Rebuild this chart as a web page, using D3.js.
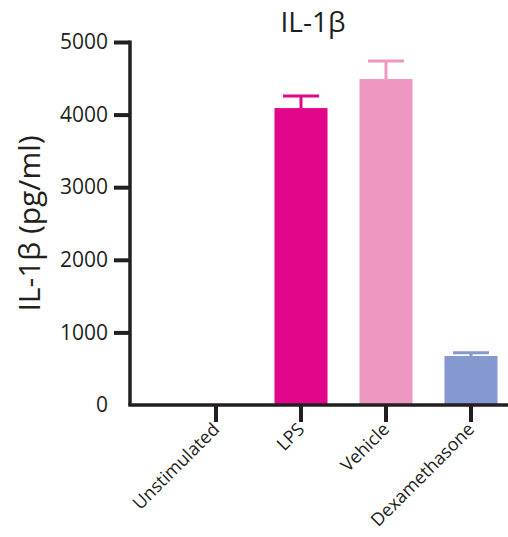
<!DOCTYPE html>
<html>
<head>
<meta charset="utf-8">
<script src="https://cdn.jsdelivr.net/npm/d3@7"></script>
<style>
  body { margin: 0; background: #fff; }
  text { font-family: "Open Sans", sans-serif; fill: #231f20; }
</style>
</head>
<body>
<svg id="chart" width="508" height="537"></svg>
<script>
const categories = ["Unstimulated", "LPS", "Vehicle", "Dexamethasone"];
const means = [0, 4090, 4490, 675];
const errors = [0, 165, 250, 45];
const barColors = ["#ffffff", "#e2078a", "#ee98c1", "#8599d0"];
const yTicks = [0, 1000, 2000, 3000, 4000, 5000];

const AXIS_COLOR = "#231f20";
const X0 = 130;
const X1 = 508;

const svg = d3.select("#chart");

const x = d3.scaleBand()
  .domain(categories)
  .range([173.5, 513.5])
  .paddingInner(0.376)
  .paddingOuter(0.188);

const y = d3.scaleLinear()
  .domain([0, 5000])
  .range([405, 42]);

// bars
svg.append("g").selectAll("rect")
  .data(categories)
  .join("rect")
  .attr("x", d => x(d))
  .attr("width", x.bandwidth())
  .attr("y", (d, i) => y(means[i]))
  .attr("height", (d, i) => y(0) - y(means[i]))
  .attr("fill", (d, i) => barColors[i]);

// error bars (upper only)
const err = svg.append("g");
categories.forEach((c, i) => {
  if (!means[i]) return;
  const cx = x(c) + x.bandwidth() / 2;
  err.append("line")
    .attr("x1", cx).attr("x2", cx)
    .attr("y1", y(means[i])).attr("y2", y(means[i] + errors[i]))
    .attr("stroke", barColors[i]).attr("stroke-width", 3);
  err.append("line")
    .attr("x1", cx - 18).attr("x2", cx + 18)
    .attr("y1", y(means[i] + errors[i])).attr("y2", y(means[i] + errors[i]))
    .attr("stroke", barColors[i]).attr("stroke-width", 3);
});

// y axis
const yAxis = svg.append("g")
  .attr("transform", `translate(${X0},0)`)
  .call(d3.axisLeft(y).tickValues(yTicks).tickFormat(d3.format("d"))
    .tickSize(16).tickPadding(6).tickSizeOuter(0));
yAxis.select(".domain").remove();
yAxis.selectAll(".tick line").attr("stroke", AXIS_COLOR).attr("stroke-width", 4);
yAxis.selectAll(".tick text").style("font-size", "21px").attr("fill", AXIS_COLOR);
yAxis.select(".tick:first-of-type line").remove();

svg.append("line")
  .attr("x1", X0).attr("x2", X0)
  .attr("y1", y(5000) - 1.5).attr("y2", y(0))
  .attr("stroke", AXIS_COLOR).attr("stroke-width", 3.5);

// x axis
const xAxis = svg.append("g")
  .attr("transform", `translate(0,${y(0)})`)
  .call(d3.axisBottom(x).tickSize(17).tickPadding(4).tickSizeOuter(0));
xAxis.select(".domain").remove();
xAxis.selectAll(".tick line").attr("stroke", AXIS_COLOR).attr("stroke-width", 4);
xAxis.selectAll(".tick text")
  .style("font-size", "18px")
  .attr("fill", AXIS_COLOR)
  .attr("text-anchor", "end")
  .attr("dy", "0.35em")
  .attr("transform", "translate(0,21) rotate(-45)")
  .attr("y", 0).attr("x", 0);

svg.append("line")
  .attr("x1", X0 - 1.75).attr("x2", X1)
  .attr("y1", y(0)).attr("y2", y(0))
  .attr("stroke", AXIS_COLOR).attr("stroke-width", 3.5);

// titles
svg.append("text")
  .attr("x", 313).attr("y", 32)
  .attr("text-anchor", "middle")
  .style("font-size", "28px")
  .text("IL-1β");

svg.append("text")
  .attr("transform", `translate(40,${y(2500)}) rotate(-90)`)
  .attr("text-anchor", "middle")
  .style("font-size", "30px")
  .text("IL-1β (pg/ml)");
</script>
</body>
</html>
